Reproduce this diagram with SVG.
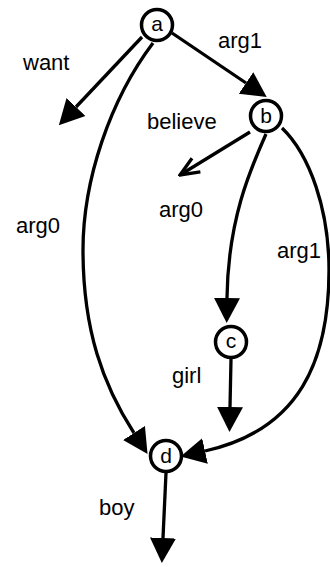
<svg xmlns="http://www.w3.org/2000/svg" width="330" height="567" viewBox="0 0 330 567">
<style>
.edge{fill:none;stroke:#000;stroke-width:3.3}
.node circle{fill:#fff;stroke:#000;stroke-width:3.5}
.node text{font-family:"Liberation Sans",Arial,sans-serif;font-size:21px;text-anchor:middle;fill:#000}
.lbl{font-family:"Liberation Sans",Arial,sans-serif;font-size:22px;fill:#000}
</style>
<defs>
<marker id="head" viewBox="0 -14 26 28" refX="0" refY="0" markerWidth="26" markerHeight="28" markerUnits="userSpaceOnUse" orient="auto">
<path d="M0,-13 L25,0 L0,13 z" fill="#000"/>
</marker>
<marker id="open" viewBox="-22 -10 24 20" refX="0" refY="0" markerWidth="24" markerHeight="20" markerUnits="userSpaceOnUse" orient="auto">
<path d="M-19,-8 L0,0 L-19,8" fill="none" stroke="#000" stroke-width="3.3"/>
</marker>
</defs>
<rect width="330" height="567" fill="#fff"/>
<g id="connectors">
<path class="edge" d="M142,37 L76,107" marker-end="url(#head)"/>
<path class="edge" d="M172,33 L246,83" marker-end="url(#head)"/>
<path class="edge" d="M153,43 C110,100 83,180 83,250 C83,330 103,385 134,433" marker-end="url(#head)"/>
<path class="edge" d="M250,132 L180,175" marker-end="url(#open)"/>
<path class="edge" d="M266,134 C250,170 228,220 227,298" marker-end="url(#head)"/>
<path class="edge" d="M282,128 C310,155 329,210 329,270 C329,360 300,430 205,451" marker-end="url(#head)"/>
<path class="edge" d="M231,359 L230,407" marker-end="url(#head)"/>
<path class="edge" d="M166,473 L163,538" marker-end="url(#head)"/>
</g>
<g id="labels">
<text class="lbl" x="23" y="70">want</text>
<text class="lbl" x="218" y="48">arg1</text>
<text class="lbl" x="147" y="129">believe</text>
<text class="lbl" x="159" y="217">arg0</text>
<text class="lbl" x="16" y="233">arg0</text>
<text class="lbl" x="277" y="258">arg1</text>
<text class="lbl" x="172" y="383">girl</text>
<text class="lbl" x="99" y="515">boy</text>
</g>
<g id="node-a" class="node"><circle cx="157" cy="25" r="15.5"/><text x="157" y="31">a</text></g>
<g id="node-b" class="node"><circle cx="266" cy="116" r="15.5"/><text x="266" y="123">b</text></g>
<g id="node-c" class="node"><circle cx="231" cy="342" r="15.5"/><text x="231" y="348">c</text></g>
<g id="node-d" class="node"><circle cx="166" cy="456" r="15.5"/><text x="166" y="463">d</text></g>
</svg>
